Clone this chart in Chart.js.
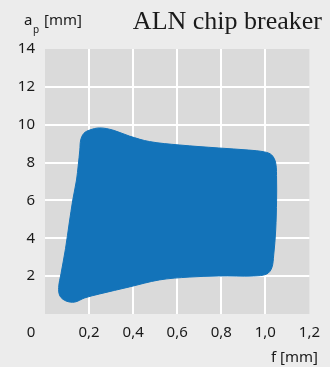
<!DOCTYPE html>
<html>
<head>
<meta charset="utf-8">
<script src="https://cdn.jsdelivr.net/npm/chart.js@4/dist/chart.umd.min.js"></script>
<style>
  html, body { margin: 0; padding: 0; background: #ececec; }
  #wrap { width: 330px; height: 367px; }
</style>
</head>
<body>
<div id="wrap"><canvas id="chart" width="330" height="367"></canvas></div>
<script>
// outline of the working area, f [mm] / a_p [mm], clockwise from the left edge
const outlineF = [0.110, 0.126, 0.143, 0.151, 0.158, 0.162, 0.176, 0.203, 0.248, 0.307,
  0.383, 0.474, 0.609, 0.789, 0.925, 0.997, 1.029, 1.047, 1.051, 1.051,
  1.047, 1.038, 1.029, 1.006, 0.947, 0.789, 0.654, 0.519, 0.383, 0.248,
  0.180, 0.135, 0.095, 0.068, 0.062, 0.073, 0.093, 0.110];
const outlineAp = [4.81, 6.02, 7.08, 7.87, 8.66, 9.19, 9.54, 9.72, 9.83, 9.72,
  9.40, 9.11, 8.93, 8.77, 8.66, 8.56, 8.40, 7.98, 7.08, 6.02,
  4.44, 3.12, 2.43, 2.11, 2.01, 2.01, 1.95, 1.80, 1.43, 1.06,
  0.85, 0.63, 0.69, 0.95, 1.40, 2.15, 3.45, 4.81];

const xTickValues = [0.2, 0.4, 0.6, 0.8, 1.0, 1.2];
const yTickValues = [2, 4, 6, 8, 10, 12, 14];

const chartTitle = 'ALN chip breaker';
const xTitle = 'f [mm]';
const originLabel = '0';

const sans = '"Noto Sans", "Open Sans", sans-serif';
const blue = 'rgb(19, 115, 185)';

const points = outlineF.map(function (f, i) { return { x: f, y: outlineAp[i] }; });

const plotBg = {
  id: 'plotBg',
  beforeDraw: function (chart) {
    const a = chart.chartArea;
    const ctx = chart.ctx;
    ctx.save();
    ctx.fillStyle = '#dadada';
    ctx.fillRect(a.left, a.top, a.right - a.left, a.bottom - a.top);
    ctx.restore();
  }
};

const labels = {
  id: 'labels',
  afterDraw: function (chart) {
    const ctx = chart.ctx;
    const a = chart.chartArea;
    ctx.save();
    ctx.fillStyle = '#1a1a1a';
    ctx.textBaseline = 'alphabetic';

    // y title: a with subscript p
    ctx.textAlign = 'left';
    ctx.font = '15px ' + sans;
    ctx.fillText('a', 24, 25);
    ctx.font = '10px ' + sans;
    ctx.fillText('p', 33, 33);
    ctx.font = '15px ' + sans;
    ctx.fillText('[mm]', 44, 25);

    // chart title
    ctx.textAlign = 'right';
    ctx.font = '26px "Liberation Serif", "DejaVu Serif", serif';
    ctx.fillText(chartTitle, 322, 29);

    // x title
    ctx.font = '15px ' + sans;
    ctx.fillText(xTitle, 318, 362);

    // shared origin label
    ctx.textAlign = 'center';
    ctx.fillText(originLabel, a.left - 14, 337);
    ctx.restore();
  }
};

const gridColor = function (c, last) {
  return c.tick && c.tick.value === last ? 'rgba(0,0,0,0)' : '#ffffff';
};

new Chart(document.getElementById('chart'), {
  type: 'scatter',
  data: {
    datasets: [{
      data: points,
      showLine: true,
      fill: 'shape',
      backgroundColor: blue,
      borderColor: blue,
      borderWidth: 1,
      pointRadius: 0,
      tension: 0.35
    }]
  },
  options: {
    responsive: false,
    devicePixelRatio: 1,
    animation: false,
    layout: { padding: { top: 49, right: 19, left: 0, bottom: 0 } },
    plugins: {
      legend: { display: false },
      tooltip: { enabled: false }
    },
    scales: {
      x: {
        type: 'linear',
        min: 0,
        max: 1.2,
        afterBuildTicks: function (s) { s.ticks = xTickValues.map(function (v) { return { value: v }; }); },
        afterFit: function (s) { s.height = 53; },
        border: { display: false },
        grid: { drawTicks: false, lineWidth: 2, color: function (c) { return gridColor(c, 1.2); } },
        ticks: {
          padding: 10,
          maxRotation: 0,
          color: '#1a1a1a',
          font: { family: sans, size: 15 },
          callback: function (v) { return Number(v).toFixed(1).replace('.', ','); }
        }
      },
      y: {
        type: 'linear',
        min: 0,
        max: 14,
        afterBuildTicks: function (s) { s.ticks = yTickValues.map(function (v) { return { value: v }; }); },
        afterFit: function (s) { s.width = 45; },
        border: { display: false },
        grid: { drawTicks: false, lineWidth: 2, color: function (c) { return gridColor(c, 14); } },
        ticks: {
          padding: 10,
          color: '#1a1a1a',
          font: { family: sans, size: 15 },
          callback: function (v) { return String(v); }
        }
      }
    }
  },
  plugins: [plotBg, labels]
});
</script>
</body>
</html>
